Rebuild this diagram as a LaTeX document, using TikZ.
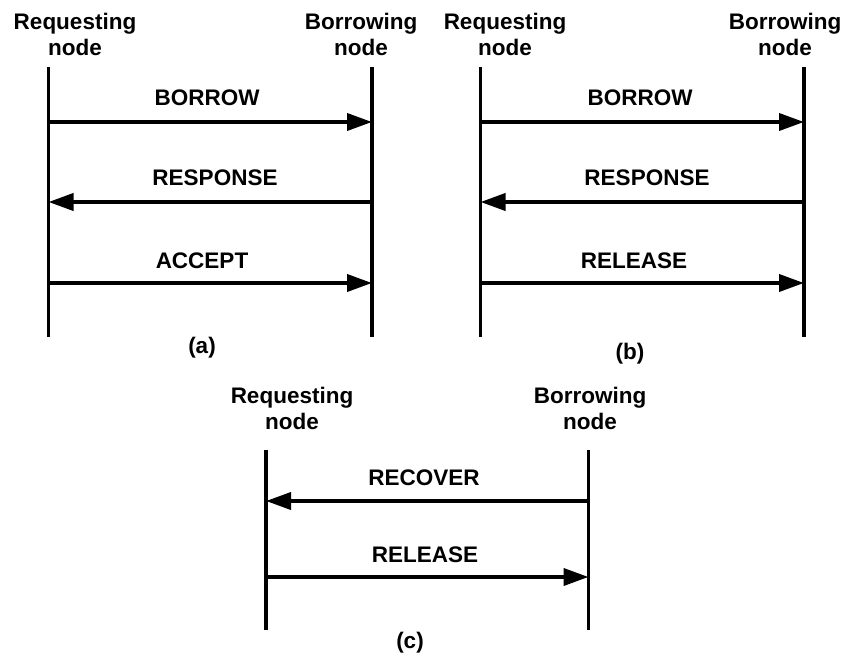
\documentclass[tikz,border=0pt]{standalone}
\usepackage{fontspec}
\setmainfont{Liberation Sans}
\usetikzlibrary{arrows.meta}
\tikzset{
  lbl/.style={font=\fontsize{22.5}{26}\selectfont\bfseries, inner sep=0pt, align=center},
  headlbl/.style={lbl, anchor=north},
  msglbl/.style={lbl, anchor=base},
  lifeline/.style={line width=3.8pt},
  msg/.style={line width=3.8pt, -{Triangle[length=25pt,width=17pt]}},
}
\begin{document}
\begin{tikzpicture}[x=1pt, y=-1pt]
\useasboundingbox (0,0) rectangle (842,655);

% ---------- (a) ----------
\coordinate (aLt) at (48.5,67);  \coordinate (aLb) at (48.5,337);
\coordinate (aRt) at (372,67);   \coordinate (aRb) at (372,337);
\draw[lifeline] (aLt) -- (aLb);
\draw[lifeline] (aRt) -- (aRb);
\node[headlbl] (aReq) at (75,13) {Requesting\\node};
\node[headlbl] (aBor) at (361,13) {Borrowing\\node};
\coordinate (aL1) at (48.5,122); \coordinate (aR1) at (372,122);
\coordinate (aL2) at (48.5,202); \coordinate (aR2) at (372,202);
\coordinate (aL3) at (48.5,283); \coordinate (aR3) at (372,283);
\draw[msg] (aL1) -- (aR1);
\draw[msg] (aR2) -- (aL2);
\draw[msg] (aL3) -- (aR3);
\node[msglbl] (aM1) at (207,106) {BORROW};
\node[msglbl] (aM2) at (215,185) {RESPONSE};
\node[msglbl] (aM3) at (202,268) {ACCEPT};
\node[msglbl] (aCap) at (202,353) {(a)};

% ---------- (b) ----------
\coordinate (bLt) at (480.5,67); \coordinate (bLb) at (480.5,337);
\coordinate (bRt) at (804,67);   \coordinate (bRb) at (804,337);
\draw[lifeline] (bLt) -- (bLb);
\draw[lifeline] (bRt) -- (bRb);
\node[headlbl] (bReq) at (505,13) {Requesting\\node};
\node[headlbl] (bBor) at (785,13) {Borrowing\\node};
\coordinate (bL1) at (480.5,122); \coordinate (bR1) at (804,122);
\coordinate (bL2) at (480.5,202); \coordinate (bR2) at (804,202);
\coordinate (bL3) at (480.5,283); \coordinate (bR3) at (804,283);
\draw[msg] (bL1) -- (bR1);
\draw[msg] (bR2) -- (bL2);
\draw[msg] (bL3) -- (bR3);
\node[msglbl] (bM1) at (640,106) {BORROW};
\node[msglbl] (bM2) at (647,185) {RESPONSE};
\node[msglbl] (bM3) at (634,268) {RELEASE};
\node[msglbl] (bCap) at (630,359) {(b)};

% ---------- (c) ----------
\coordinate (cLt) at (266,450);  \coordinate (cLb) at (266,630);
\coordinate (cRt) at (588.5,450); \coordinate (cRb) at (588.5,630);
\draw[lifeline] (cLt) -- (cLb);
\draw[lifeline] (cRt) -- (cRb);
\node[headlbl] (cReq) at (292,387) {Requesting\\node};
\node[headlbl] (cBor) at (590,387) {Borrowing\\node};
\coordinate (cL1) at (266,501);  \coordinate (cR1) at (588.5,501);
\coordinate (cL2) at (266,577);  \coordinate (cR2) at (588.5,577);
\draw[msg] (cR1) -- (cL1);
\draw[msg] (cL2) -- (cR2);
\node[msglbl] (cM1) at (424,485) {RECOVER};
\node[msglbl] (cM2) at (425,562) {RELEASE};
\node[msglbl] (cCap) at (410,648) {(c)};
\end{tikzpicture}
\end{document}
